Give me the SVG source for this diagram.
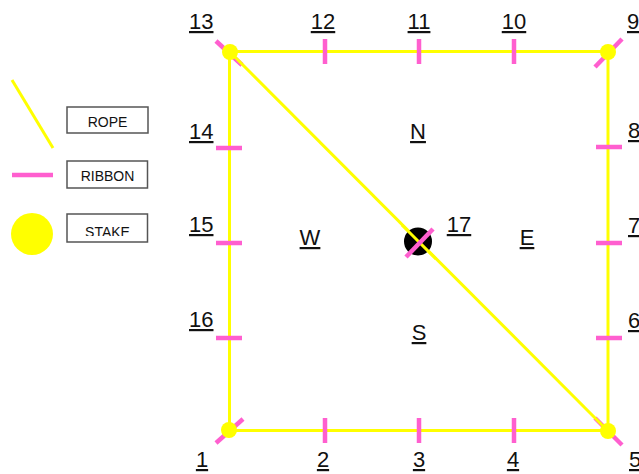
<svg xmlns="http://www.w3.org/2000/svg" width="639" height="474" viewBox="0 0 639 474">
  <style>
    .rope { stroke: #FFFF00; stroke-width: 3; fill: none; }
    .ribbon { stroke: #FF5FCF; stroke-width: 4.5; fill: none; }
    .stake { fill: #FFFF00; }
    .num { font-family: "Liberation Sans", Arial, sans-serif; font-size: 22px; fill: #111; text-decoration: underline; }
    .lbl { font-family: "Liberation Sans", Arial, sans-serif; font-size: 14px; fill: #111; text-anchor: middle; }
    .box { fill: #fff; stroke: #555; stroke-width: 1.5; }
  </style>
  <defs>
    <clipPath id="stakeClip"><rect x="67" y="214" width="81" height="22"/></clipPath>
  </defs>
  <rect width="639" height="474" fill="#fff"/>

  <!-- legend -->
  <g id="legend">
    <line class="rope" x1="12" y1="80" x2="53" y2="148"/>
    <line class="ribbon" x1="12" y1="175" x2="53" y2="175"/>
    <circle class="stake" cx="32" cy="234" r="21"/>
    <rect class="box" x="67" y="107" width="81" height="26"/>
    <text class="lbl" x="107.5" y="127">ROPE</text>
    <rect class="box" x="67" y="161" width="80.5" height="27"/>
    <text class="lbl" x="107.5" y="181">RIBBON</text>
    <rect class="box" x="67" y="214" width="80.5" height="28"/>
    <text class="lbl" x="107.5" y="236.5" clip-path="url(#stakeClip)">STAKE</text>
  </g>

  <!-- ropes -->
  <g id="connectors">
    <rect class="rope" x="229.5" y="51.5" width="378.5" height="379"/>
    <!-- corner ribbons under the diagonal -->
    <line class="ribbon" x1="216" y1="41" x2="242" y2="65"/>
    <line class="ribbon" x1="595" y1="418" x2="622" y2="445"/>
    <line class="ribbon" x1="595" y1="67" x2="622" y2="39"/>
    <line class="ribbon" x1="216" y1="443" x2="243" y2="419"/>
    <line class="rope" x1="230" y1="52" x2="608" y2="431"/>
  </g>

  <!-- stakes -->
  <g id="stake-13"><circle class="stake" cx="230" cy="52" r="8"/></g>
  <g id="stake-9"><circle class="stake" cx="608" cy="52" r="8"/></g>
  <g id="stake-1"><circle class="stake" cx="229" cy="430" r="8"/></g>
  <g id="stake-5"><circle class="stake" cx="608" cy="431" r="8"/></g>

  <!-- centre stake -->
  <g id="stake-17">
    <circle cx="418" cy="241.5" r="14" fill="#000"/>
    <line class="rope" x1="402" y1="225" x2="436" y2="259"/>
    <line class="ribbon" x1="406" y1="257" x2="433" y2="229"/>
  </g>

  <!-- side ribbons -->
  <g id="ribbons-top">
    <line class="ribbon" x1="325" y1="39" x2="325" y2="64"/>
    <line class="ribbon" x1="419" y1="39" x2="419" y2="64"/>
    <line class="ribbon" x1="514" y1="39" x2="514" y2="64"/>
  </g>
  <g id="ribbons-bottom">
    <line class="ribbon" x1="325" y1="418" x2="325" y2="443"/>
    <line class="ribbon" x1="419" y1="418" x2="419" y2="443"/>
    <line class="ribbon" x1="514" y1="418" x2="514" y2="443"/>
  </g>
  <g id="ribbons-left">
    <line class="ribbon" x1="216" y1="148" x2="242" y2="148"/>
    <line class="ribbon" x1="216" y1="243" x2="242" y2="243"/>
    <line class="ribbon" x1="216" y1="338" x2="242" y2="338"/>
  </g>
  <g id="ribbons-right">
    <line class="ribbon" x1="596" y1="147" x2="622" y2="147"/>
    <line class="ribbon" x1="596" y1="243" x2="622" y2="243"/>
    <line class="ribbon" x1="596" y1="338" x2="622" y2="338"/>
  </g>

  <!-- point numbers -->
  <g id="labels">
    <text class="num" x="189" y="29">13</text>
    <text class="num" x="323" y="29" text-anchor="middle">12</text>
    <text class="num" x="419" y="29" text-anchor="middle">11</text>
    <text class="num" x="514" y="29" text-anchor="middle">10</text>
    <text class="num" x="627" y="29">9</text>
    <text class="num" x="189" y="139">14</text>
    <text class="num" x="189" y="232">15</text>
    <text class="num" x="189" y="327">16</text>
    <text class="num" x="628" y="138">8</text>
    <text class="num" x="628" y="233">7</text>
    <text class="num" x="628" y="328">6</text>
    <text class="num" x="202" y="467" text-anchor="middle">1</text>
    <text class="num" x="323" y="467" text-anchor="middle">2</text>
    <text class="num" x="419" y="467" text-anchor="middle">3</text>
    <text class="num" x="513" y="467" text-anchor="middle">4</text>
    <text class="num" x="629" y="467">5</text>
    <text class="num" x="459" y="232" text-anchor="middle">17</text>
    <text class="num" x="418" y="139" text-anchor="middle">N</text>
    <text class="num" x="310" y="245" text-anchor="middle">W</text>
    <text class="num" x="527" y="245" text-anchor="middle">E</text>
    <text class="num" x="419" y="340" text-anchor="middle">S</text>
  </g>
</svg>
